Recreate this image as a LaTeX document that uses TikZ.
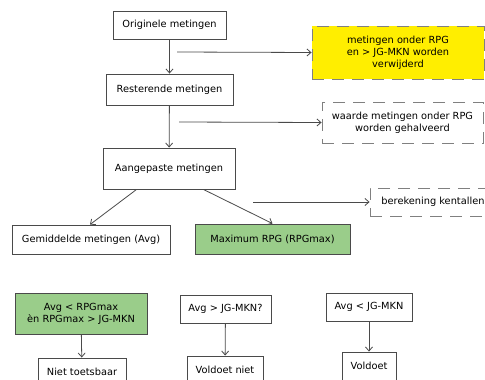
\documentclass[tikz,border=0pt]{standalone}
\usepackage{fontspec}
\setmainfont{DejaVu Sans}
\usetikzlibrary{arrows.meta}

\definecolor{geel}{HTML}{FFEE00}
\definecolor{groen}{HTML}{9ACD8A}
\definecolor{lijn}{HTML}{4A4A4A}

\begin{document}
\begin{tikzpicture}[x=1pt,y=-1pt,>={Straight Barb[length=4pt,width=7pt]},
    font=\fontsize{9.8}{11.8}\selectfont,
    box/.style={draw=lijn,line width=0.9pt,align=center,inner sep=0pt},
    note/.style={draw=gray,line width=0.9pt,dash pattern=on 12pt off 8pt,align=center,inner sep=0pt},
    pijl/.style={->,draw=lijn,line width=0.8pt}]
    \clip (0,0) rectangle (485,380);
    \node[box,minimum width=113pt,minimum height=28pt] (orig) at (169.5,25) {Originele metingen} ;
    \node[box,minimum width=127pt,minimum height=31pt] (rest) at (169.5,89.5) {Resterende metingen} ;
    \node[box,minimum width=132pt,minimum height=41pt] (aang) at (169,168.5) {Aangepaste metingen} ;
    \node[box,minimum width=158pt,minimum height=29pt] (gem)  at (91,239.5) {Gemiddelde metingen (Avg)} ;
    \node[box,fill=groen,minimum width=155pt,minimum height=30pt] (maxi) at (272.5,239) {Maximum RPG (RPGmax)} ;
    \node[note,fill=geel,minimum width=172pt,minimum height=53pt] (weg) at (398,52.5)
      {metingen onder RPG\\en > JG-MKN worden\\verwijderd} ;
    \node[note,minimum width=161pt,minimum height=41pt] (half) at (402.5,122.5)
      {waarde metingen onder RPG\\worden gehalveerd} ;
    \node[note,minimum width=126pt,minimum height=28pt] (kent) at (433,202) {berekening kentallen} ;
    \node[box,fill=groen,minimum width=132pt,minimum height=41pt] (c1) at (81,313.5)
      {Avg < RPGmax\\èn RPGmax > JG-MKN} ;
    \node[box,minimum width=91pt,minimum height=28pt] (c2) at (225.5,309) {Avg > JG-MKN?} ;
    \node[box,minimum width=86pt,minimum height=28pt] (c3) at (369,307) {Avg < JG-MKN} ;
    \node[box,minimum width=88pt,minimum height=28pt] (niet) at (82,372) {Niet toetsbaar} ;
    \node[box,minimum width=76pt,minimum height=28pt] (vn)   at (225,370) {Voldoet niet} ;
    \node[box,minimum width=54pt,minimum height=28pt] (vd)   at (369,366) {Voldoet} ;
    \coordinate (s1) at (177,52) ;
    \coordinate (s2) at (179,122) ;
    \coordinate (s3) at (253,202) ;
    \draw[pijl] (orig) -- (rest) ;
    \draw[pijl] (rest) -- (aang) ;
    \draw[pijl] ([xshift=34pt]aang.south west) -- ([xshift=-1pt]gem.north) ;
    \draw[pijl] ([xshift=-32pt]aang.south east) -- (maxi.north) ;
    \draw[pijl] (s1) -- (weg.west) ;
    \draw[pijl] (s2) -- (half.west) ;
    \draw[pijl] (s3) -- (kent.west) ;
    \draw[pijl] (c1) -- (niet) ;
    \draw[pijl] (c2) -- (vn) ;
    \draw[pijl] (c3) -- (vd) ;
\end{tikzpicture}
\end{document}
